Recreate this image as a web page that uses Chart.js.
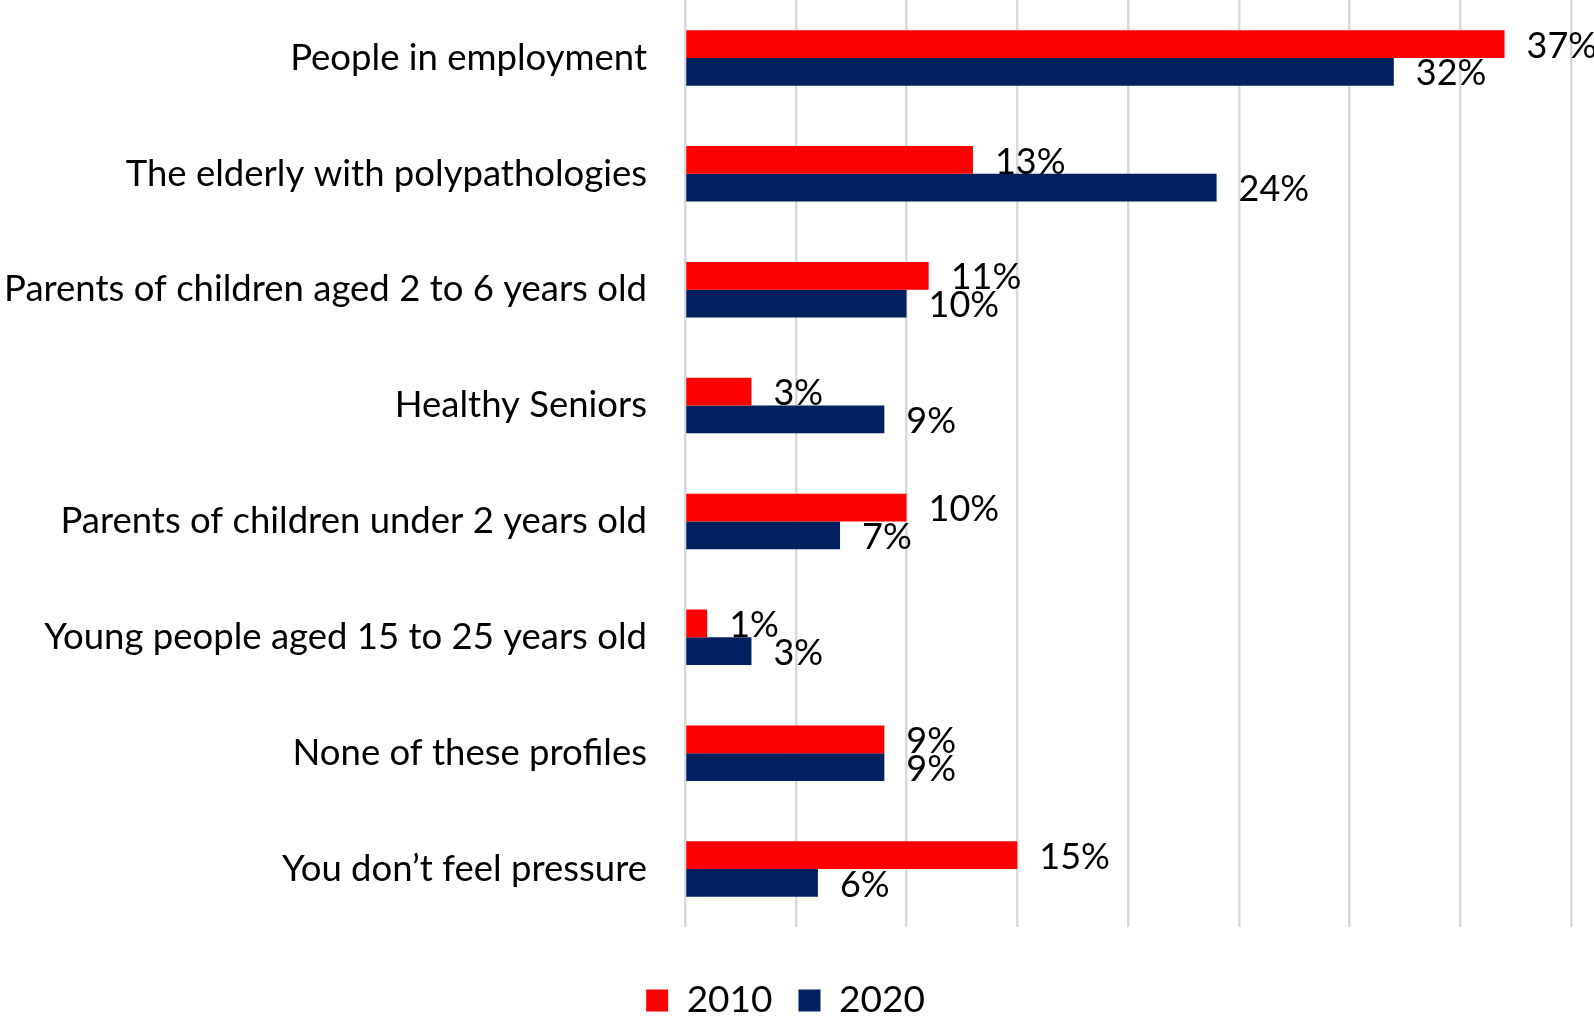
<!DOCTYPE html>
<html>
<head>
<meta charset="utf-8">
<script src="https://cdn.jsdelivr.net/npm/chart.js@4"></script>
<style>
  body { margin: 0; background: #fff; }
  #wrap { width: 1594px; height: 1024px; position: relative; }
</style>
</head>
<body>
<div id="wrap"><canvas id="myChart"></canvas></div>
<script>
const categories = [
    "People in employment",
    "The elderly with polypathologies",
    "Parents of children aged 2 to 6 years old",
    "Healthy Seniors",
    "Parents of children under 2 years old",
    "Young people aged 15 to 25 years old",
    "None of these profiles",
    "You don\u2019t feel pressure"
];
const values2010 = [37, 13, 11, 3, 10, 1, 9, 15];
const values2020 = [32, 24, 10, 9, 7, 3, 9, 6];
const seriesNames = ["2010", "2020"];

const FONT = "Lato";

// draws the value labels to the right of each bar
const valueLabels = {
    id: "valueLabels",
    afterDatasetsDraw(chart) {
        const ctx = chart.ctx;
        ctx.save();
        ctx.font = "36px " + FONT;
        ctx.fillStyle = "#000";
        ctx.textAlign = "left";
        ctx.textBaseline = "middle";
        chart.data.datasets.forEach((ds, i) => {
            chart.getDatasetMeta(i).data.forEach((bar, j) => {
                ctx.fillText(ds.data[j] + "%", bar.x + 22, bar.y + 2);
            });
        });
        ctx.restore();
    }
};

document.addEventListener("DOMContentLoaded", () => {
    const ctx = document.getElementById("myChart").getContext("2d");
    new Chart(ctx, {
        type: "bar",
        data: {
            labels: categories,
            datasets: [
                { label: seriesNames[0], data: values2010, backgroundColor: "#ff0000" },
                { label: seriesNames[1], data: values2020, backgroundColor: "#002060" }
            ]
        },
        options: {
            indexAxis: "y",
            responsive: true,
            maintainAspectRatio: false,
            animation: false,
            layout: { padding: { top: 0, right: 23, left: 0, bottom: -5 } },
            datasets: {
                bar: { barPercentage: 1, categoryPercentage: 0.48 }
            },
            scales: {
                x: {
                    min: 0,
                    max: 40,
                    ticks: { display: false, stepSize: 5 },
                    grid: { color: "#d9d9d9", lineWidth: 2.5, drawTicks: false },
                    border: { display: false },
                    afterFit(scale) { scale.height = 29; }
                },
                y: {
                    grid: { display: false, drawTicks: false },
                    border: { display: false },
                    ticks: {
                        color: "#000",
                        padding: 38,
                        font: { family: FONT, size: 36.5 }
                    },
                    afterFit(scale) {
                        scale.width = 685;
                        scale.paddingTop = 0;
                        scale.paddingBottom = 0;
                    }
                }
            },
            plugins: {
                legend: {
                    position: "bottom",
                    labels: {
                        color: "#000",
                        boxWidth: 22,
                        boxHeight: 22,
                        padding: 26,
                        font: { family: FONT, size: 37 }
                    }
                },
                tooltip: { enabled: false }
            }
        },
        plugins: [valueLabels]
    });
});
</script>
</body>
</html>
